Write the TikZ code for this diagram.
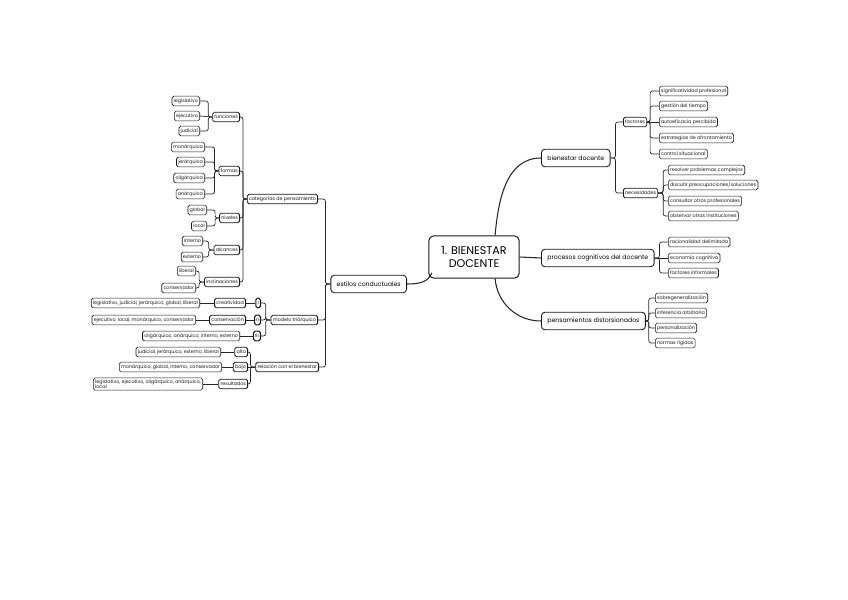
\documentclass[tikz,border=0pt]{standalone}
\usepackage{fontspec}
\setmainfont{Poppins}
\begin{document}
\begin{tikzpicture}[x=0.03cm,y=-0.03cm,
	hoja/.style={draw=black!90, line width=0.55pt, rounded corners=1.5pt, fill=white, text=black!90, font=\fontsize{4.1}{4.8}\selectfont, inner xsep=1.5pt, inner ysep=1.2pt, minimum height=8.3pt},
	rama/.style={hoja, line width=0.65pt},
	tema/.style={draw=black!90, line width=0.75pt, rounded corners=3pt, fill=white, font=\fontsize{5.3}{6}\selectfont, inner xsep=5pt, minimum height=15pt},
	raiz/.style={draw=black!90, line width=0.85pt, rounded corners=4pt, fill=white, align=center, font=\fontsize{9.5}{11}\selectfont, minimum width=77pt, minimum height=36pt},
	enlace/.style={draw=black!85, line width=0.6pt, rounded corners=2pt},
	tronco/.style={draw=black!85, line width=0.9pt}]
	\useasboundingbox (0,0) rectangle (848,600);
	
	% centro
	\node[raiz] (bien) at (474,257) {1. BIENESTAR\\DOCENTE};
	
	% derecha
	\node[tema, anchor=west] (bd) at (541,158) {bienestar docente};
	\node[tema, anchor=west] (pcd) at (541,258) {procesos cognitivos del docente};
	\node[tema, anchor=west] (pd) at (541,321) {pensamientos distorsionados};
	\draw[tronco] ([xshift=18pt]bien.north) to[out=85,in=180] (bd.west);
	\draw[tronco] (bien.east) -- (pcd.west);
	\draw[tronco] ([xshift=18pt]bien.south) to[out=-85,in=180] (pd.west);
	
	\node[rama, anchor=west] (fac) at (623,122) {factores};
	\node[rama, anchor=west] (nec) at (623,193) {necesidades};
	\draw[enlace] (bd.east) -- ++(5,0) |- (fac.west);
	\draw[enlace] (bd.east) -- ++(5,0) |- (nec.west);
	
	\node[hoja, anchor=west] (fac1) at (659,91) {significatividad profesional};
	\node[hoja, anchor=west] (fac2) at (659,106) {gestión del tiempo};
	\node[hoja, anchor=west] (fac3) at (659,122) {autoeficacia percibida};
	\node[hoja, anchor=west] (fac4) at (659,138) {estrategias de afrontamiento};
	\node[hoja, anchor=west] (fac5) at (659,154) {control situacional};
	\draw[enlace] (fac.east) -- ++(3,0) |- (fac1.west);
	\draw[enlace] (fac.east) -- ++(3,0) |- (fac2.west);
	\draw[enlace] (fac.east) -- (fac3.west);
	\draw[enlace] (fac.east) -- ++(3,0) |- (fac4.west);
	\draw[enlace] (fac.east) -- ++(3,0) |- (fac5.west);
	
	\node[hoja, anchor=west] (nec1) at (668,170) {resolver problemas complejos};
	\node[hoja, anchor=west] (nec2) at (668,185) {discutir preocupaciones/soluciones};
	\node[hoja, anchor=west] (nec3) at (668,201) {consultar otros profesionales};
	\node[hoja, anchor=west] (nec4) at (668,216) {observar otras instituciones};
	\draw[enlace] (nec.east) -- ++(5,0) |- (nec1.west);
	\draw[enlace] (nec.east) -- ++(5,0) |- (nec2.west);
	\draw[enlace] (nec.east) -- ++(5,0) |- (nec3.west);
	\draw[enlace] (nec.east) -- ++(5,0) |- (nec4.west);
	
	\node[hoja, anchor=west] (pcd1) at (668,242) {racionalidad delimitada};
	\node[hoja, anchor=west] (pcd2) at (668,258) {economía cognitiva};
	\node[hoja, anchor=west] (pcd3) at (668,273) {factores informales};
	\draw[enlace] (pcd.east) -- ++(5,0) |- (pcd1.west);
	\draw[enlace] (pcd.east) -- (pcd2.west);
	\draw[enlace] (pcd.east) -- ++(5,0) |- (pcd3.west);
	
	\node[hoja, anchor=west] (pd1) at (655,298) {sobregeneralización};
	\node[hoja, anchor=west] (pd2) at (655,313) {inferencia arbitraria};
	\node[hoja, anchor=west] (pd3) at (655,328) {personalización};
	\node[hoja, anchor=west] (pd4) at (655,343) {normas rígidas};
	\draw[enlace] (pd.east) -- ++(3,0) |- (pd1.west);
	\draw[enlace] (pd.east) -- ++(3,0) |- (pd2.west);
	\draw[enlace] (pd.east) -- ++(3,0) |- (pd3.west);
	\draw[enlace] (pd.east) -- ++(3,0) |- (pd4.west);
	
	% izquierda
	\node[tema, anchor=east] (ec) at (407,284) {estilos conductuales};
	\draw[tronco] ([xshift=3pt,yshift=5pt]bien.south west) to[out=-110,in=0] (ec.east);
	
	\node[rama, anchor=east] (cp) at (318,199) {categorías de pensamiento};
	\node[rama, anchor=east] (mt) at (318,320) {modelo triárquico};
	\node[rama, anchor=east] (rb) at (319,367) {relación con el bienestar};
	\draw[enlace] (ec.west) -- ++(-5,0) |- (cp.east);
	\draw[enlace] (ec.west) -- ++(-5,0) |- (mt.east);
	\draw[enlace] (ec.west) -- ++(-5,0) |- (rb.east);
	
	\node[rama, anchor=east] (fun) at (240,117) {funciones};
	\node[rama, anchor=east] (for) at (240,171) {formas};
	\node[rama, anchor=east] (niv) at (240,218) {niveles};
	\node[rama, anchor=east] (alc) at (240,250) {alcances};
	\node[rama, anchor=east] (inc) at (240,282) {inclinaciones};
	\draw[enlace] (cp.west) -- ++(-4,0) |- (fun.east);
	\draw[enlace] (cp.west) -- ++(-4,0) |- (for.east);
	\draw[enlace] (cp.west) -- ++(-4,0) |- (niv.east);
	\draw[enlace] (cp.west) -- ++(-4,0) |- (alc.east);
	\draw[enlace] (cp.west) -- ++(-4,0) |- (inc.east);
	
	\node[hoja, anchor=east] (fun1) at (200,101) {legislativo};
	\node[hoja, anchor=east] (fun2) at (200,116) {ejecutivo};
	\node[hoja, anchor=east] (fun3) at (200,131) {judicial};
	\draw[enlace] (fun.west) -- ++(-4,0) |- (fun1.east);
	\draw[enlace] (fun.west) -- (fun2.east);
	\draw[enlace] (fun.west) -- ++(-4,0) |- (fun3.east);
	
	\node[hoja, anchor=east] (for1) at (205,147) {monárquica};
	\node[hoja, anchor=east] (for2) at (205,162) {jerárquica};
	\node[hoja, anchor=east] (for3) at (205,178) {oligárquica};
	\node[hoja, anchor=east] (for4) at (205,194) {anárquica};
	\draw[enlace] (for.west) -- ++(-4,0) |- (for1.east);
	\draw[enlace] (for.west) -- ++(-4,0) |- (for2.east);
	\draw[enlace] (for.west) -- ++(-4,0) |- (for3.east);
	\draw[enlace] (for.west) -- ++(-4,0) |- (for4.east);
	
	\node[hoja, anchor=east] (niv1) at (207,210) {global};
	\node[hoja, anchor=east] (niv2) at (207,226) {local};
	\draw[enlace] (niv.west) -- ++(-4,0) |- (niv1.east);
	\draw[enlace] (niv.west) -- ++(-4,0) |- (niv2.east);
	
	\node[hoja, anchor=east] (alc1) at (203,241) {interno};
	\node[hoja, anchor=east] (alc2) at (203,257) {externo};
	\draw[enlace] (alc.west) -- ++(-5,0) |- (alc1.east);
	\draw[enlace] (alc.west) -- ++(-5,0) |- (alc2.east);
	
	\node[hoja, anchor=east] (inc1) at (196,271) {liberal};
	\node[hoja, anchor=east] (inc2) at (196,288) {conservador};
	\draw[enlace] (inc.west) -- ++(-5,0) |- (inc1.east);
	\draw[enlace] (inc.west) -- ++(-5,0) |- (inc2.east);
	
	\node[rama, anchor=east, line width=0.9pt] (t1) at (261,303) {I};
	\node[rama, anchor=east, line width=0.9pt] (t2) at (261,320) {II};
	\node[rama, anchor=east, line width=0.9pt] (t3) at (261,336) {III};
	\draw[enlace] (mt.west) -- ++(-5,0) |- (t1.east);
	\draw[enlace] (mt.west) -- ++(-5,0) |- (t2.east);
	\draw[enlace] (mt.west) -- ++(-5,0) |- (t3.east);
	
	\node[rama, anchor=east] (cre) at (246,303) {creatividad};
	\node[rama, anchor=east] (con) at (246,320) {conservación};
	\node[hoja, anchor=east] (t1h) at (200,303) {legislativo, judicial, jerárquico, global, liberal};
	\node[hoja, anchor=east] (t2h) at (196,320) {ejecutivo, local, monárquico, conservador};
	\node[hoja, anchor=east] (t3h) at (240,336) {oligárquico, anárquico, interno, externo};
	\draw[enlace] (t1.west) -- (cre.east);
	\draw[enlace] (cre.west) -- (t1h.east);
	\draw[enlace] (t2.west) -- (con.east);
	\draw[enlace] (con.west) -- (t2h.east);
	\draw[enlace] (t3.west) -- (t3h.east);
	
	\node[rama, anchor=east] (alto) at (248,352) {alto};
	\node[rama, anchor=east] (bajo) at (248,367) {bajo};
	\node[rama, anchor=east] (res) at (248,384) {resultados};
	\draw[enlace] (rb.west) -- ++(-5,0) |- (alto.east);
	\draw[enlace] (rb.west) -- (bajo.east);
	\draw[enlace] (rb.west) -- ++(-5,0) |- (res.east);
	
	\node[hoja, anchor=east] (alto1) at (221,352) {judicial, jerárquico, externo, liberal};
	\node[hoja, anchor=east] (bajo1) at (222,367) {monárquico, global, interno, conservador};
	\node[hoja, anchor=east, align=left] (res1) at (203,384) {legislativo, ejecutivo, oligárquico, anárquico,\\local};
	\draw[enlace] (alto.west) -- (alto1.east);
	\draw[enlace] (bajo.west) -- (bajo1.east);
	\draw[enlace] (res.west) -- (res1.east);
	
\end{tikzpicture}
\end{document}
